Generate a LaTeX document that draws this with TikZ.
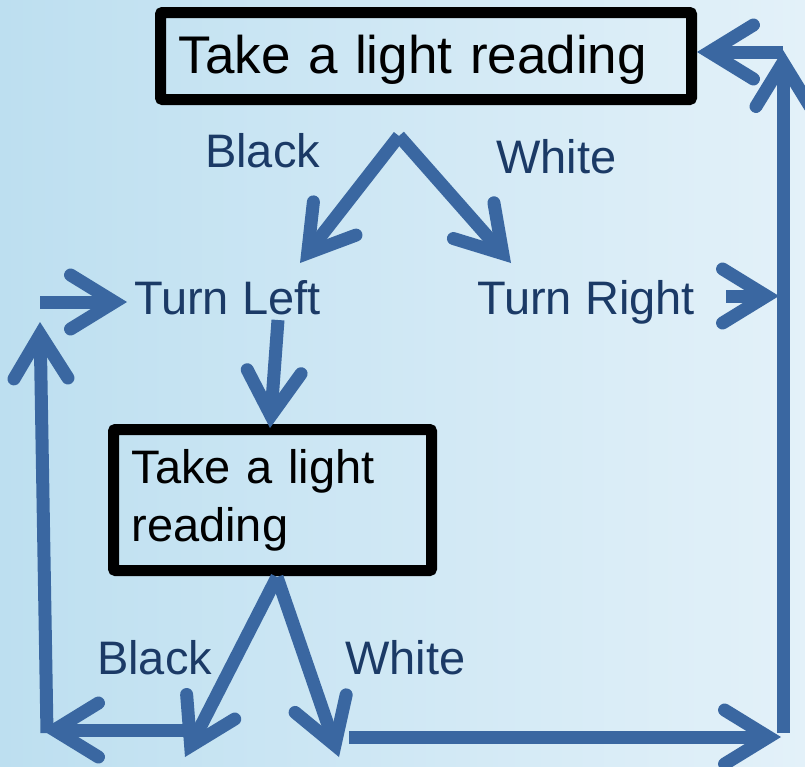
\documentclass[tikz,border=0pt]{standalone}
\usepackage{fontspec}
\setmainfont{Liberation Sans}
\usetikzlibrary{arrows.meta}
\definecolor{arrowblue}{HTML}{3A67A1}
\definecolor{labelnavy}{HTML}{1B3A66}
\definecolor{bgleft}{HTML}{BDDFF0}
\definecolor{bgright}{HTML}{E3F1F9}
\begin{document}
\begin{tikzpicture}[x=1pt,y=-1pt,
  flow/.style={draw=arrowblue, line width=13pt,
    -{Straight Barb[length=44pt,width=54pt,line cap=round,line join=miter]}},
  readbox/.style={draw=black, line width=11pt, rounded corners=2pt, align=left, inner xsep=18pt, text=black},
  lbl/.style={anchor=base west, inner sep=0pt, text=labelnavy, font=\fontsize{47}{56}\selectfont}]
\useasboundingbox (0,0) rectangle (805,766);
\shade[left color=bgleft,right color=bgright] (0,0) rectangle (805,766);

% boxes
\node[readbox, minimum width=531pt, minimum height=87pt, text width=495pt,
      text height=45pt, text depth=11pt, font=\fontsize{53}{60}\selectfont]
  (top) at (426,56) {Take a light reading};
\node[readbox, minimum width=318pt, minimum height=141pt, text width=282pt,
      font=\fontsize{47}{58}\selectfont]
  (low) at (272.5,500) {Take a light\\reading};

% labels
\node[lbl] (blk1) at (205,167) {Black};
\node[lbl] (wht1) at (496,173) {White};
\node[lbl] (tl) at (134,314) {Turn Left};
\node[lbl] (tr) at (477,314) {Turn Right};
\node[lbl] (blk2) at (97,674) {Black};
\node[lbl] (wht2) at (345,674) {White};

% junction coordinates
\coordinate (a1) at (399,136);
\coordinate (tlhead) at (300,263);
\coordinate (trhead) at (511,263);
\coordinate (tldown) at (278,320);
\coordinate (lowin) at (270,428);
\coordinate (a2) at (277,577);
\coordinate (blhead) at (185,757);
\coordinate (bwhead) at (339,757);
\coordinate (blcorner) at (185,730);
\coordinate (llcorner) at (42,730);
\coordinate (lvbot) at (47,733);
\coordinate (lvtop) at (40,322);
\coordinate (tlin0) at (40,302);
\coordinate (tlin1) at (127,302);
\coordinate (trout0) at (726,296);
\coordinate (trout1) at (779,296);
\coordinate (rvbot) at (783,733);
\coordinate (rvtop) at (783,50);
\coordinate (topin) at (783,52);
\coordinate (bh0) at (349,737);
\coordinate (bh1) at (781,737);

% connectors
\draw[flow] (a1) -- (tlhead);
\draw[flow] (a1) -- (trhead);
\draw[flow] (tldown) -- (lowin);
\draw[flow] (a2) -- (blhead);
\draw[flow] (a2) -- (bwhead);
\draw[flow] (blcorner) -- (llcorner);
\draw[flow] (lvbot) -- (lvtop);
\draw[flow] (tlin0) -- (tlin1);
\draw[flow] (trout0) -- (trout1);
\draw[flow] (rvbot) -- (rvtop);
\draw[flow] (topin) -- (top.east |- topin);
\draw[flow] (bh0) -- (bh1);
\end{tikzpicture}
\end{document}
